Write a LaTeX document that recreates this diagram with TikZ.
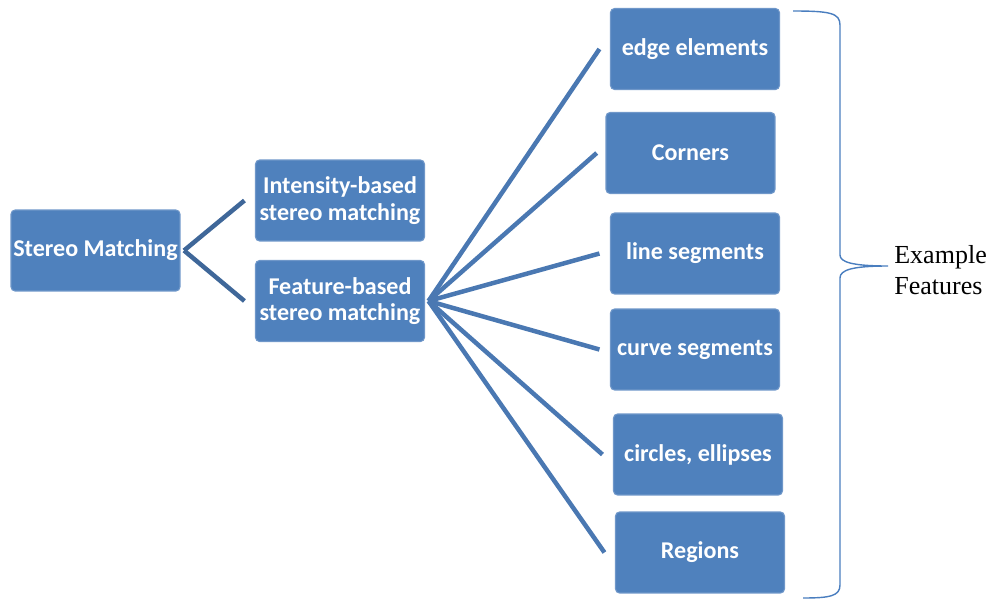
\documentclass[tikz,border=0pt]{standalone}
\usepackage{fontspec}
\setmainfont{Liberation Serif}
\setsansfont{Carlito}
\usepackage{xcolor}
\usepackage{tikz}
\usetikzlibrary{positioning}

\definecolor{boxblue}{HTML}{4F81BD}
\definecolor{boxedge}{HTML}{6F97C9}
\definecolor{linkdark}{HTML}{3F6799}
\definecolor{linkblue}{HTML}{4A78B2}
\definecolor{braceblue}{HTML}{4A7EBF}

\begin{document}
\begin{tikzpicture}[x=0.02cm, y=-0.02cm,
    box/.style={draw=boxedge, line width=0.6pt, fill=boxblue, rounded corners=0.08cm,
        minimum width=3.38cm, minimum height=1.62cm, inner sep=0pt, align=center,
        text=white, font=\sffamily\bfseries\fontsize{13.7}{15}\selectfont},
    link/.style={line width=0.09cm, linkblue}]
    \useasboundingbox (0,0) rectangle (995,599);

    % Root
    \node[box] (stereo) at (95.5,250.5) {Stereo Matching};

    % Approaches
    \node[box] (intensity) at (340,200.5) {Intensity-based\\stereo matching};
    \node[box] (feature) at (340,301) {Feature-based\\stereo matching};

    % Features
    \node[box] (edge) at (695,49) {edge elements};
    \node[box] (corners) at (690.5,153) {Corners};
    \node[box] (lines) at (695,253.5) {line segments};
    \node[box] (curves) at (695,349.5) {curve segments};
    \node[box] (circles) at (698,454.5) {circles, ellipses};
    \node[box] (regions) at (700,552.5) {Regions};

    % Edges
    \draw[link, linkdark] ([xshift=2]stereo.east) -- ([xshift=-6]intensity.west);
    \draw[link, linkdark] ([xshift=2]stereo.east) -- ([xshift=-6]feature.west);
    \draw[link] ([xshift=2]feature.east) -- ([xshift=-6]edge.west);
    \draw[link] ([xshift=2]feature.east) -- ([xshift=-5]corners.west);
    \draw[link] ([xshift=2]feature.east) -- ([xshift=-6]lines.west);
    \draw[link] ([xshift=2]feature.east) -- ([xshift=-6]curves.west);
    \draw[link] ([xshift=2]feature.east) -- ([xshift=-6]circles.west);
    \draw[link] ([xshift=2]feature.east) -- ([xshift=-6]regions.west);

    % Brace
    \draw[braceblue, line width=0.8pt] (793,11) .. controls (830,11) and (840,13) .. (840,25)
        -- (840,255) .. controls (840,262) and (852,266) .. (888,266)
        .. controls (852,266) and (840,270) .. (840,278)
        -- (840,585) .. controls (840,596) and (830,598) .. (803,598);
    \node[anchor=west, align=left, font=\fontsize{14.8}{17.6}\selectfont, inner sep=0pt] (label) at (894,270) {Example\\Features};
\end{tikzpicture}
\end{document}
